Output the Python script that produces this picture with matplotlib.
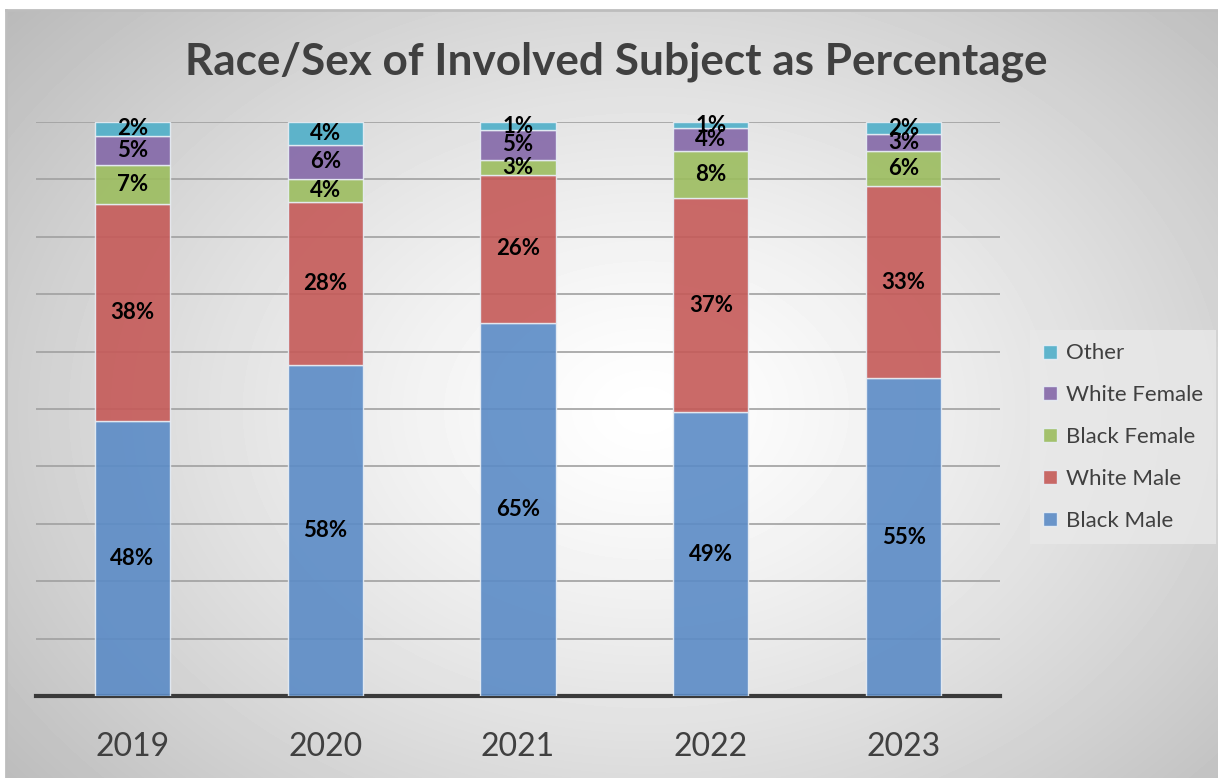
import numpy as np
import matplotlib.pyplot as plt
from matplotlib.patches import Patch

plt.rcParams['font.family'] = ['Lato', 'DejaVu Sans']

years = ['2019', '2020', '2021', '2022', '2023']
series = ['Black Male', 'White Male', 'Black Female', 'White Female', 'Other']
black_male = [47.9, 57.7, 65.0, 49.4, 55.4]
white_male = [37.8, 28.4, 25.8, 37.4, 33.4]
black_female = [6.8, 4.0, 2.6, 8.1, 6.1]
white_female = [5.1, 5.9, 5.2, 4.0, 3.0]
other = [2.4, 4.0, 1.4, 1.1, 2.1]
colors = ['#5b8bc6', '#c55a58', '#9cbd5f', '#8468a8', '#4fafc9']

W, H = 1218, 778
fig = plt.figure(figsize=(W / 100, H / 100), dpi=100)
fig.patch.set_facecolor('white')

# gradient background panel
bg = fig.add_axes([6 / W, 0, 1 - 6 / W, (H - 10) / H])
yy, xx = np.mgrid[0:768, 0:1212]
r = np.sqrt(((xx - 640) / 760.0) ** 2 + ((yy - 400) / 560.0) ** 2)
shade = 1.0 - 0.24 * np.clip(r, 0, 1.3) ** 1.3
bg.imshow(shade, cmap='gray', vmin=0, vmax=1, aspect='auto', interpolation='bilinear')
bg.set_xticks([])
bg.set_yticks([])
for s in bg.spines.values():
    s.set_visible(False)
for s in ['top', 'left']:
    bg.spines[s].set_visible(True)
    bg.spines[s].set_color('#bdbdbd')
    bg.spines[s].set_linewidth(2)

ax = fig.add_axes([36 / W, (H - 696) / H, (1000 - 36) / W, (696 - 122) / H])
ax.patch.set_alpha(0)

data = np.array([black_male, white_male, black_female, white_female, other])
pct = data / data.sum(axis=0) * 100
x = np.arange(len(years))
bottom = np.zeros(len(years))
for name, vals, raw, c in zip(series, pct, data, colors):
    ax.bar(x, vals, 0.39, bottom=bottom, color=c, alpha=0.9,
           edgecolor='#e8eef5', linewidth=1, label=name, zorder=3)
    for xi, b, v, rv in zip(x, bottom, vals, raw):
        ax.text(xi, b + v / 2, f'{rv:.0f}%', ha='center', va='center',
                fontsize=16, fontweight='bold', color='black', zorder=4)
    bottom += vals

ax.set_xlim(-0.5, 4.5)
ax.set_ylim(0, 100)
ax.set_yticks(np.arange(0, 101, 10))
ax.yaxis.grid(True, color='#a0a0a0', linewidth=1.2, zorder=0)
ax.set_axisbelow(True)
ax.tick_params(axis='y', left=False, labelleft=False)
ax.set_xticks(x)
ax.set_xticklabels(years, fontsize=23, color='#404040')
ax.tick_params(axis='x', length=0, pad=26)
for s in ['top', 'right', 'left']:
    ax.spines[s].set_visible(False)
ax.spines['bottom'].set_color('#3a3a3a')
ax.spines['bottom'].set_linewidth(3)

fig.text(616 / W, 1 - 62 / H, 'Race/Sex of Involved Subject as Percentage',
         ha='center', va='center', fontsize=31.8, fontweight='bold', color='#404040')

handles = [Patch(facecolor=c, edgecolor='#e8eef5', alpha=0.9) for c in colors]
leg = fig.legend(handles[::-1], series[::-1], loc='center left',
                 bbox_to_anchor=(1030 / W, 1 - 437 / H), borderaxespad=0,
                 fontsize=16, labelspacing=0.98, handlelength=0.6, handleheight=0.6,
                 handletextpad=0.4, borderpad=0.6, frameon=True, fancybox=False,
                 labelcolor='#404040')
leg.get_frame().set_facecolor('#e9e9e9')
leg.get_frame().set_edgecolor('none')

fig.savefig('out.png', dpi=100)
